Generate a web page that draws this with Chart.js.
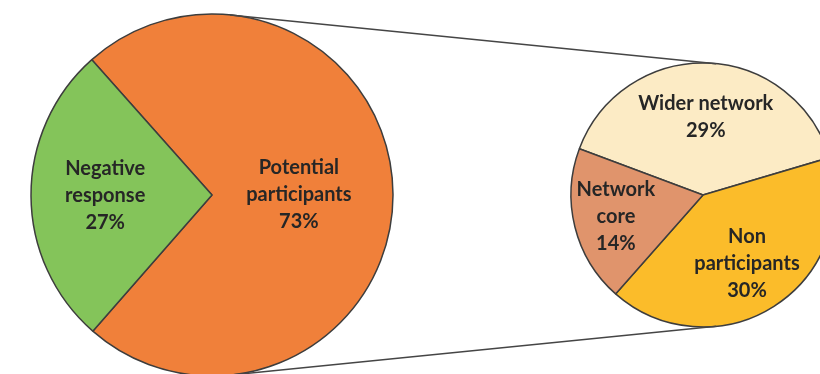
<!DOCTYPE html>
<html>
<head>
<meta charset="utf-8">
<script src="https://cdn.jsdelivr.net/npm/chart.js@4.4.1/dist/chart.umd.min.js"></script>
<style>
    html, body { margin: 0; padding: 0; background: #fff; }
    #wrap { position: relative; width: 820px; height: 374px; overflow: hidden; }
    #wrap canvas { position: absolute; left: 0; top: 0; }
</style>
</head>
<body>
<div id="wrap">
    <canvas id="mainPie" width="820" height="374"></canvas>
    <canvas id="detailPie" width="820" height="374"></canvas>
</div>
<script>
// Overall split of respondents
const mainLabels = [['Potential', 'participants'], ['Negative', 'response']];
const mainValues = [73, 27];

// Breakdown of the potential participants (share of all respondents)
const detailLabels = [['Wider network'], ['Non', 'participants'], ['Network', 'core']];
const detailValues = [29, 30, 14];

const mainColors = ['#f0803a', '#84c45a'];
const detailColors = ['#fcebc5', '#fbbc2a', '#e0946c'];

// how far out along the slice each label sits (fraction of radius)
const mainLabelPos = [0.48, 0.59];
const detailLabelPos = [0.59, 0.62, 0.68];

const FONT = 'bold 20px Lato';
const LINE_H = 27;

// writes the slice name and percentage inside each slice
function sliceLabels(positions) {
    return {
        id: 'sliceLabels',
        afterDatasetsDraw(chart) {
            const ctx = chart.ctx;
            const meta = chart.getDatasetMeta(0);
            const values = chart.data.datasets[0].data;
            ctx.save();
            ctx.font = FONT;
            ctx.fillStyle = '#262626';
            ctx.textAlign = 'center';
            ctx.textBaseline = 'middle';
            meta.data.forEach((arc, i) => {
                const mid = (arc.startAngle + arc.endAngle) / 2;
                const d = arc.outerRadius * positions[i];
                const x = arc.x + Math.cos(mid) * d;
                const y = arc.y + Math.sin(mid) * d;
                const lines = chart.data.labels[i].concat([values[i] + '%']);
                const top = y - (lines.length - 1) * LINE_H / 2;
                lines.forEach((t, j) => ctx.fillText(t, x, top + j * LINE_H));
            });
            ctx.restore();
        }
    };
}

function pieOptions(rotation, radius, padding) {
    return {
        responsive: false,
        animation: false,
        rotation: rotation,
        radius: radius,
        layout: { padding: padding },
        plugins: {
            legend: { display: false },
            tooltip: { enabled: false }
        }
    };
}

const mainChart = new Chart(document.getElementById('mainPie'), {
    type: 'pie',
    data: {
        labels: mainLabels,
        datasets: [{
            data: mainValues,
            backgroundColor: mainColors,
            borderColor: '#3d3d3d',
            borderWidth: 1.5,
            clip: false
        }]
    },
    options: pieOptions(-41.6, 181, { left: 0, right: 396, top: 16, bottom: 0 }),
    plugins: [sliceLabels(mainLabelPos)]
});

// outer tangent lines joining the two pies
const connector = {
    id: 'connector',
    afterDraw(chart) {
        const a = mainChart.getDatasetMeta(0).data[0];
        const b = chart.getDatasetMeta(0).data[0];
        const dx = b.x - a.x, dy = b.y - a.y;
        const d = Math.hypot(dx, dy);
        const ux = dx / d, uy = dy / d;
        const k = (a.outerRadius - b.outerRadius) / d;
        const s = Math.sqrt(1 - k * k);
        const ctx = chart.ctx;
        ctx.save();
        ctx.strokeStyle = '#454545';
        ctx.lineWidth = 1.5;
        [1, -1].forEach(sign => {
            const nx = ux * k - uy * s * sign;
            const ny = uy * k + ux * s * sign;
            ctx.beginPath();
            ctx.moveTo(a.x + nx * a.outerRadius, a.y + ny * a.outerRadius);
            ctx.lineTo(b.x + nx * b.outerRadius, b.y + ny * b.outerRadius);
            ctx.stroke();
        });
        ctx.restore();
    }
};

new Chart(document.getElementById('detailPie'), {
    type: 'pie',
    data: {
        labels: detailLabels,
        datasets: [{
            data: detailValues,
            backgroundColor: detailColors,
            borderColor: '#3d3d3d',
            borderWidth: 1.5,
            clip: false
        }]
    },
    options: pieOptions(-69.5, 132, { left: 586, right: 0, top: 16, bottom: 0 }),
    plugins: [sliceLabels(detailLabelPos), connector]
});
</script>
</body>
</html>
